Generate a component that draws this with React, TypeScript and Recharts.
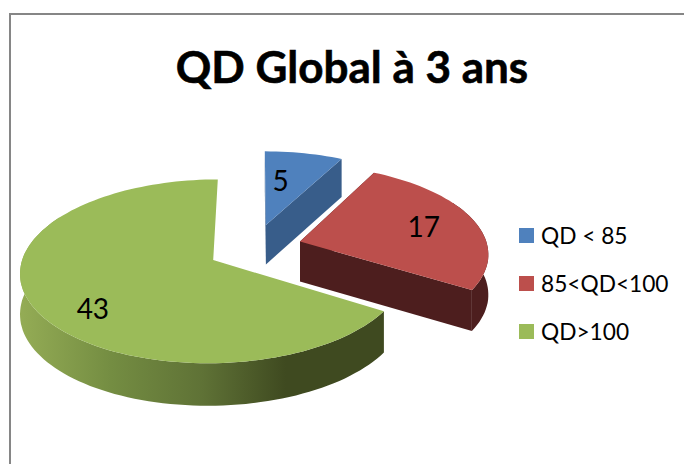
import { PieChart, Pie, Cell, Legend } from "recharts";

const categories = ["QD < 85", "85<QD<100", "QD>100"];
const values = [5, 17, 43];
const topColors = ["#4F81BD", "#BC4F4C", "#9BBB59"];
const wallColors = ["#385D8A", "#4D1E1E", "url(#greenRim)"];

const data = categories.map((name, i) => ({ name, value: values[i] }));

// fake 3D: flattened circle with some perspective, things in front get bigger
const TILT = 0.466;
const PERSPECTIVE = 0.12;
const DEPTH = 40;
const EXPLODE_X = 47;
const EXPLODE_V = 0.28;
// where each number sits inside its slice (share of radius, x and y)
const labelPlacement = [
  [0.385, 0.62],
  [0.715, 0.73],
  [0.668, 1.03],
];

type Pt = { x: number; y: number; s: number };

// clock angle = degrees clockwise from 12 o'clock, r = 0 gives the slice tip
const project = (
  cx: number,
  cy: number,
  outer: number,
  midClock: number,
  clock: number,
  r: number,
): Pt => {
  const m = (midClock * Math.PI) / 180;
  const a = (clock * Math.PI) / 180;
  const wx = EXPLODE_X * Math.sin(m) + r * outer * Math.sin(a);
  const wv = -EXPLODE_V * Math.cos(m) - r * Math.cos(a);
  const s = 1 / (1 - PERSPECTIVE * wv);
  return { x: cx + wx * s, y: cy + wv * outer * TILT * s, s };
};

const toPath = (pts: { x: number; y: number }[]) =>
  "M" + pts.map((p) => `${p.x.toFixed(1)},${p.y.toFixed(1)}`).join("L") + "Z";

const drop = (p: Pt) => ({ x: p.x, y: p.y + DEPTH * (1 + (p.s - 1) * 0.4), s: p.s });

const Slice3D = (props: any) => {
  const { cx, cy, startAngle, endAngle, midAngle, outerRadius, index } = props;
  const mid = 90 - midAngle;
  const from = 90 - startAngle;
  const to = 90 - endAngle;
  const apex = project(cx, cy, outerRadius, mid, mid, 0);
  const arc: Pt[] = [];
  const front: Pt[] = []; // outer wall only shows on the front of the pie
  for (let a = from; a <= to; a = a === to ? to + 1 : Math.min(a + 2, to)) {
    const p = project(cx, cy, outerRadius, mid, a, 1);
    arc.push(p);
    if (a > 60 && a < 300) front.push(p);
  }

  const first = arc[0];
  const last = arc[arc.length - 1];
  const wall = wallColors[index];
  const isGreen = index === 2;

  return (
    <g>
      <defs>
        <linearGradient id="greenRim" x1="0" y1="0" x2="1" y2="0">
          <stop offset="0" stopColor="#94AC55" />
          <stop offset="0.25" stopColor="#748D42" />
          <stop offset="0.5" stopColor="#5F7236" />
          <stop offset="0.73" stopColor="#3F4A20" />
          <stop offset="1" stopColor="#3F4A20" />
        </linearGradient>
      </defs>
      {front.length > 1 && <path d={toPath([...front, ...front.map(drop).reverse()])} fill={wall} />}
      {/* green cut faces point away from the viewer */}
      {!isGreen && <path d={toPath([apex, first, drop(first), drop(apex)])} fill={wall} />}
      {!isGreen && <path d={toPath([apex, last, drop(last), drop(apex)])} fill={wall} />}
      <path d={toPath([apex, ...arc])} fill={topColors[index]} />
    </g>
  );
};

const SliceLabel = (props: any) => {
  const { cx, cy, midAngle, outerRadius, index, value } = props;
  const mid = 90 - midAngle;
  const apex = project(cx, cy, outerRadius, mid, mid, 0);
  const edge = project(cx, cy, outerRadius, mid, mid, 1);
  const [kx, ky] = labelPlacement[index];
  return (
    <text
      x={apex.x + (edge.x - apex.x) * kx}
      y={apex.y + (edge.y - apex.y) * ky}
      textAnchor="middle"
      dominantBaseline="central"
      fontFamily="Lato"
      fontSize={28}
      fill="#000"
    >
      {value}
    </text>
  );
};

const LegendBox = (props: any) => (
  <div>
    {props.payload.map((item: any, i: number) => (
      <div key={i} style={{ display: "flex", alignItems: "center", height: 48 }}>
        <span style={{ width: 15, height: 15, background: topColors[i], marginRight: 7 }} />
        <span style={{ fontFamily: "Lato", fontSize: 22.7, color: "#000", whiteSpace: "nowrap" }}>
          {item.value}
        </span>
      </div>
    ))}
  </div>
);

export default function App() {
  return (
    <div
      style={{
        position: "absolute",
        left: 0,
        top: 0,
        width: 684,
        height: 464,
        overflow: "hidden",
        background: "#fff",
      }}
    >
      <div
        style={{
          position: "absolute",
          left: 9,
          top: 13,
          width: 720,
          height: 500,
          borderLeft: "2px solid #868686",
          borderTop: "2px solid #868686",
        }}
      />
      <div
        style={{
          position: "absolute",
          left: 0,
          top: 36,
          width: 704,
          textAlign: "center",
          fontFamily: "Lato",
          fontWeight: 700,
          fontSize: 44,
          lineHeight: "60px",
          color: "#000",
          WebkitTextStroke: "0.6px #000",
        }}
      >
        QD Global à 3 ans
      </div>
      <div style={{ position: "absolute", left: 0, top: 0 }}>
        <PieChart width={684} height={464} margin={{ top: 0, right: 0, bottom: 0, left: 0 }}>
          <Pie
            data={data}
            dataKey="value"
            nameKey="name"
            cx={255}
            cy={248}
            outerRadius={188}
            startAngle={90}
            endAngle={-270}
            stroke="none"
            isAnimationActive={false}
            shape={Slice3D}
            label={SliceLabel}
            labelLine={false}
          >
            {data.map((d, i) => (
              <Cell key={d.name} fill={topColors[i]} />
            ))}
          </Pie>
          <Legend
            content={LegendBox}
            layout="vertical"
            itemSorter={null}
            wrapperStyle={{ position: "absolute", left: 519, top: 211, width: 165, bottom: "auto" }}
          />
        </PieChart>
      </div>
    </div>
  );
}
